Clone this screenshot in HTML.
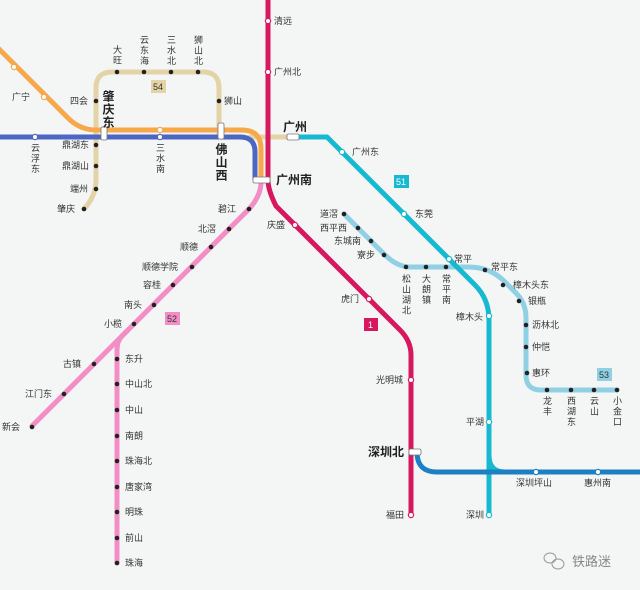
<!DOCTYPE html>
<html><head><meta charset="utf-8"><style>
html,body{margin:0;padding:0;background:#f4f5f5;}
svg{display:block;}
text{font-family:"Liberation Sans","Noto Sans CJK SC",sans-serif;font-size:9px;fill:#333;}
.b{font-size:12px;font-weight:bold;fill:#222;}
.v{writing-mode:vertical-rl;text-orientation:upright;letter-spacing:1.5px;}
.vb{writing-mode:vertical-rl;text-orientation:upright;font-size:12px;font-weight:bold;fill:#222;letter-spacing:1px;}
.d{fill:#222;}
.w{fill:#fff;}
</style></head><body>
<svg width="640" height="590" viewBox="0 0 640 590" xmlns="http://www.w3.org/2000/svg">
<rect width="640" height="590" fill="#f4f5f5"/>
<g fill="none" stroke-width="5" stroke-linecap="round" stroke-linejoin="round">
<path d="M84,209 Q96,196 96,180 L96,88 Q96,72 112,72 L203,72 Q219,72 219,88 L219,137" stroke="#e4d3a6"/>
<path d="M250,137 L295,137" stroke="#e4d3a6"/>
<path d="M0,137 L240,137 Q255,137 255,152 L255,180" stroke="#4c66c3"/>
<path d="M-5,45 L68,118 Q80,130 96,130 L242,130 Q261,130 261,149 L261,180" stroke="#f6a84a"/>
<path d="M261,182 Q261,195 250,208 L122,336 Q117,341 117,350 L117,563" stroke="#f18ec6"/>
<path d="M128,330 L32,426" stroke="#f18ec6"/>
<path d="M344,214 L384,254 Q397,267 410,267 L468,267 Q490,267 504,281 L516,293 Q526,303 526,318 L526,375 Q526,390 541,390 L617,390" stroke="#8fd0e4"/>
<path d="M295,137 L327,137 L475,285 Q489,299 489,320 L489,515" stroke="#17b9d1"/>
<path d="M489,455 Q489,472 505,472" stroke="#17b9d1"/>
<path d="M268,0 L268,180 Q268,190 276,206 L400,330 Q411,341 411,355 L411,515" stroke="#d7175e"/>
<path d="M417,452 Q417,472 437,472 L645,472" stroke="#1b80c4"/>
</g>
<rect x="151" y="80" width="15" height="13" fill="#e4d3a6"/><text x="153" y="90" fill="#555">54</text>
<rect x="394" y="175" width="15" height="13" fill="#17b9d1"/><text x="396" y="185" style="fill:#fff">51</text>
<rect x="364" y="318" width="14" height="13" fill="#d7175e"/><text x="368" y="328" style="fill:#fff">1</text>
<rect x="165" y="312" width="15" height="13" fill="#f18ec6"/><text x="167" y="322" fill="#555">52</text>
<rect x="597" y="368" width="15" height="13" fill="#8fd0e4"/><text x="599" y="378">53</text>
<g class="w" stroke-width="1.2">
<circle cx="268" cy="21" r="2.6" stroke="#d7175e"/><circle cx="268" cy="72" r="2.6" stroke="#d7175e"/>
<circle cx="295" cy="225" r="2.6" stroke="#d7175e"/><circle cx="369" cy="299" r="2.6" stroke="#d7175e"/>
<circle cx="411" cy="380" r="2.6" stroke="#d7175e"/><circle cx="411" cy="515" r="2.6" stroke="#d7175e"/>
<circle cx="14" cy="67" r="2.6" stroke="#f6a84a"/><circle cx="44" cy="97" r="2.6" stroke="#f6a84a"/>
<circle cx="160" cy="130" r="2.6" stroke="#f6a84a"/>
<circle cx="35" cy="137" r="2.6" stroke="#4c66c3"/><circle cx="160" cy="137" r="2.6" stroke="#4c66c3"/>
<circle cx="342" cy="152" r="2.6" stroke="#17b9d1"/><circle cx="404" cy="214" r="2.6" stroke="#17b9d1"/>
<circle cx="449" cy="259" r="2.6" stroke="#17b9d1"/><circle cx="489" cy="316" r="2.6" stroke="#17b9d1"/>
<circle cx="489" cy="422" r="2.6" stroke="#17b9d1"/><circle cx="489" cy="515" r="2.6" stroke="#17b9d1"/>
<circle cx="536" cy="472" r="2.6" stroke="#1b80c4"/><circle cx="598" cy="472" r="2.6" stroke="#1b80c4"/>
</g>
<g class="d">
<circle cx="117" cy="72" r="2.3"/><circle cx="144" cy="72" r="2.3"/><circle cx="171" cy="72" r="2.3"/><circle cx="198" cy="72" r="2.3"/>
<circle cx="219" cy="101" r="2.3"/><circle cx="96" cy="101" r="2.3"/><circle cx="96" cy="145" r="2.3"/><circle cx="96" cy="166" r="2.3"/><circle cx="96" cy="189" r="2.3"/><circle cx="84" cy="209" r="2.3"/>
<circle cx="249" cy="209" r="2.3"/><circle cx="229" cy="229" r="2.3"/><circle cx="211" cy="247" r="2.3"/><circle cx="192" cy="267" r="2.3"/><circle cx="173" cy="285" r="2.3"/><circle cx="154" cy="305" r="2.3"/><circle cx="134" cy="324" r="2.3"/>
<circle cx="94" cy="364" r="2.3"/><circle cx="64" cy="394" r="2.3"/><circle cx="32" cy="427" r="2.3"/>
<circle cx="117" cy="359" r="2.3"/><circle cx="117" cy="384" r="2.3"/><circle cx="117" cy="410" r="2.3"/><circle cx="117" cy="436" r="2.3"/><circle cx="117" cy="461" r="2.3"/><circle cx="117" cy="487" r="2.3"/><circle cx="117" cy="512" r="2.3"/><circle cx="117" cy="538" r="2.3"/><circle cx="117" cy="563" r="2.3"/>
<circle cx="344" cy="214" r="2.3"/><circle cx="358" cy="228" r="2.3"/><circle cx="371" cy="241" r="2.3"/><circle cx="384" cy="255" r="2.3"/>
<circle cx="406" cy="267" r="2.3"/><circle cx="426" cy="267" r="2.3"/><circle cx="446" cy="267" r="2.3"/>
<circle cx="485" cy="270" r="2.3"/><circle cx="503" cy="285" r="2.3"/><circle cx="519" cy="301" r="2.3"/>
<circle cx="526" cy="325" r="2.3"/><circle cx="526" cy="347" r="2.3"/><circle cx="527" cy="373" r="2.3"/>
<circle cx="547" cy="390" r="2.3"/><circle cx="571" cy="390" r="2.3"/><circle cx="594" cy="390" r="2.3"/><circle cx="617" cy="390" r="2.3"/>
</g>
<g fill="#fff" stroke="#777" stroke-width="0.8">
<rect x="101" y="127" width="6" height="13" rx="1.5"/>
<rect x="218" y="123" width="6" height="16" rx="1.5"/>
<rect x="253" y="177" width="17" height="6" rx="1.5"/>
<rect x="287" y="134" width="12" height="6" rx="1.5"/>
<rect x="409" y="449" width="12" height="6" rx="1.5"/>
</g>
<text x="274" y="24">清远</text><text x="274" y="75">广州北</text>
<text x="267" y="228">庆盛</text><text x="341" y="302">虎门</text>
<text x="376" y="383">光明城</text><text x="386" y="518">福田</text>
<text x="466" y="518">深圳</text><text x="466" y="425">平湖</text>
<text x="456" y="320">樟木头</text><text x="454" y="262">常平</text>
<text x="415" y="217">东莞</text><text x="352" y="155">广州东</text>
<text x="516" y="486">深圳坪山</text><text x="584" y="486">惠州南</text>
<text x="320" y="217">道滘</text><text x="320" y="231">西平西</text><text x="334" y="244">东城南</text><text x="357" y="258">寮步</text>
<text x="491" y="270">常平东</text><text x="513" y="288">樟木头东</text><text x="528" y="304">银瓶</text>
<text x="532" y="328">沥林北</text><text x="532" y="350">仲恺</text><text x="532" y="376">惠环</text>
<text class="v" x="406" y="274">松山湖北</text><text class="v" x="426" y="274">大朗镇</text><text class="v" x="446" y="274">常平南</text>
<text class="v" x="547" y="396">龙丰</text><text class="v" x="571" y="396">西湖东</text><text class="v" x="594" y="396">云山</text><text class="v" x="617" y="396">小金口</text>
<text class="v" x="117" y="45">大旺</text><text class="v" x="144" y="35">云东海</text><text class="v" x="171" y="35">三水北</text><text class="v" x="198" y="35">狮山北</text>
<text x="224" y="104">狮山</text><text x="70" y="104">四会</text>
<text x="62" y="148">鼎湖东</text><text x="62" y="169">鼎湖山</text><text x="70" y="192">端州</text><text x="57" y="212">肇庆</text>
<text x="12" y="100">广宁</text>
<text class="v" x="35" y="143">云浮东</text><text class="v" x="160" y="143">三水南</text>
<text class="vb" x="108" y="90">肇庆东</text><text class="vb" x="221" y="143">佛山西</text>
<text class="b" x="283" y="131">广州</text><text class="b" x="276" y="184">广州南</text><text class="b" x="368" y="456">深圳北</text>
<text x="218" y="212">碧江</text><text x="198" y="232">北滘</text><text x="180" y="250">顺德</text>
<text x="142" y="270">顺德学院</text><text x="143" y="288">容桂</text><text x="124" y="308">南头</text><text x="104" y="327">小榄</text>
<text x="63" y="367">古镇</text><text x="25" y="397">江门东</text><text x="2" y="430">新会</text>
<text x="125" y="362">东升</text><text x="125" y="387">中山北</text><text x="125" y="413">中山</text><text x="125" y="439">南朗</text>
<text x="125" y="464">珠海北</text><text x="125" y="490">唐家湾</text><text x="125" y="515">明珠</text><text x="125" y="541">前山</text><text x="125" y="566">珠海</text>
<g stroke="#999" fill="none" stroke-width="1"><ellipse cx="550" cy="558" rx="6" ry="5"/><ellipse cx="558" cy="564" rx="6" ry="5"/></g>
<text x="572" y="566" style="font-size:13px;fill:#888">铁路迷</text>
</svg>
</body></html>
